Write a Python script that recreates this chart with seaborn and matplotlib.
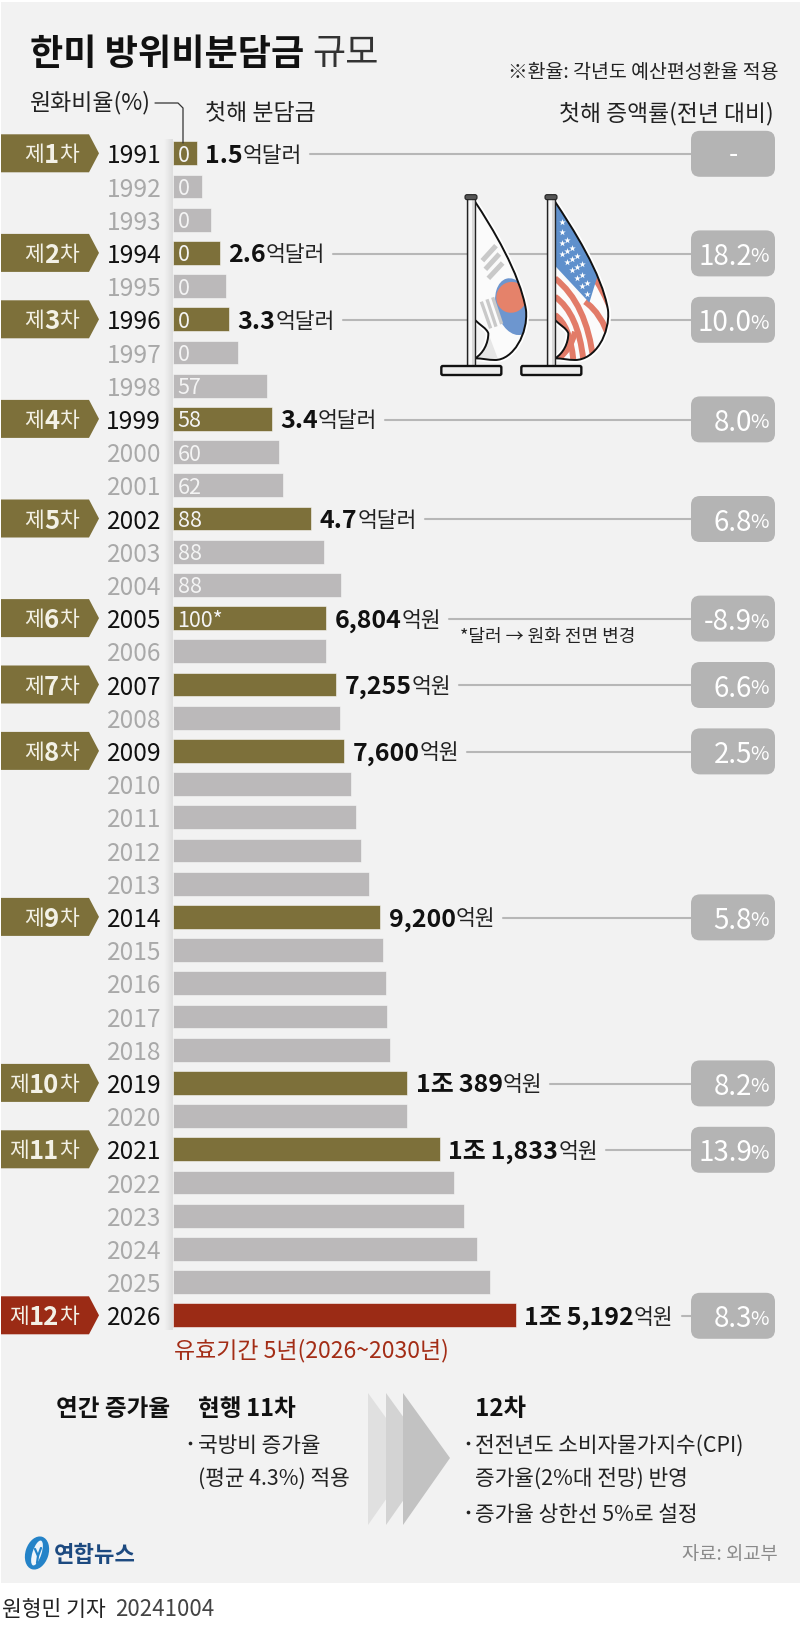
"""Recreates the Yonhap infographic on the Korea-US defence cost sharing (SMA)."""
import numpy as np
import pandas as pd
import matplotlib
matplotlib.use("Agg")
import matplotlib.pyplot as plt
import seaborn as sns
from matplotlib.patches import Ellipse, FancyBboxPatch, PathPatch, Polygon, Rectangle
from matplotlib.path import Path

sns.set_theme(style="white")
plt.rcParams["font.family"] = ["Noto Sans CJK KR", "DejaVu Sans"]

# ---- data ----
YEARS = list(range(1991, 2027))
SHARE_EOK_WON = [
    1062, 1293, 1700, 2085, 2377, 2492, 2877, 4188, 4391, 4688, 4869, 6135,
    6680, 7450, 6804, 6804, 7255, 7415, 7600, 7904, 8125, 8361, 8695, 9200,
    9320, 9441, 9507, 9602, 10389, 10389, 11833, 12472, 12896, 13463, 14028,
    15192,
]
WON_RATIO = ["0", "0", "0", "0", "0", "0", "0", "57", "58", "60", "62", "88",
             "88", "88", "100*"]
ROUND_YEARS = [1991, 1994, 1996, 1999, 2002, 2005, 2007, 2009, 2014, 2019, 2021, 2026]
ROUND_NUMBERS = ["1", "2", "3", "4", "5", "6", "7", "8", "9", "10", "11", "12"]
FIRST_AMOUNT = ["1.5", "2.6", "3.3", "3.4", "4.7", "6,804", "7,255", "7,600",
                "9,200", "1조\u2009389", "1조\u20091,833", "1조\u20095,192"]
AMOUNT_UNIT = ["억달러", "억달러", "억달러", "억달러", "억달러", "억원", "억원",
               "억원", "억원", "억원", "억원", "억원"]
FIRST_RATE = ["-", "18.2", "10.0", "8.0", "6.8", "-8.9", "6.6", "2.5", "5.8",
              "8.2", "13.9", "8.3"]

OLIVE = "#7d703a"
GREY_BAR = "#bbb9ba"
RED = "#9b2b15"
PILL = "#b4b4b4"
LINE = "#b7b7b7"
PANEL = "#f2f2f2"
INK = "#222222"

# pixel layout of the reference
BAR_LEFT = 172.6
FIRST_ROW = 153.3
ROW_STEP = 33.2
PX_PER_EOK = 343.2 / 15192


def run_text(ax, x, y, runs):
    """Writes text pieces one after the other, returns the x where they end."""
    renderer = ax.figure.canvas.get_renderer()
    for string, size, weight, color in runs:
        t = ax.text(x, y, string, fontsize=size, fontweight=weight, color=color,
                    ha="left", va="center_baseline")
        box = t.get_window_extent(renderer).transformed(ax.transData.inverted())
        x = box.x1
    return x


def draw_label(ax, y, number, color):
    """Arrow tag on the left: 제 N차."""
    ax.add_patch(Polygon([(1, y - 19), (89, y - 19), (99, y), (89, y + 19), (1, y + 19)],
                         closed=True, facecolor=color, edgecolor="none"))
    renderer = ax.figure.canvas.get_renderer()
    inv = ax.transData.inverted()
    x = 79
    for string, size, weight, gap in [("차", 15.5, "normal", 0), (number, 18.5, "bold", 0), ("제", 15.5, "normal", 4)]:
        t = ax.text(x, y - 0.5, string, fontsize=size, fontweight=weight, color="#f3f1e6",
                    ha="right", va="center_baseline")
        x = t.get_window_extent(renderer).transformed(inv).x0 - gap


def draw_pill(ax, y, rate):
    ax.add_patch(FancyBboxPatch((691 + 8, y - 23 + 8), 84 - 16, 46 - 16,
                                boxstyle="round,pad=8,rounding_size=9",
                                facecolor=PILL, edgecolor="none", zorder=3))
    if rate == "-":
        ax.text(733.5, y - 1, "-", fontsize=19, color="white", ha="center",
                va="center_baseline", zorder=4)
        return
    ax.text(769, y + 1, "%", fontsize=14.5, color="white", ha="right",
            va="center_baseline", zorder=4)
    ax.text(752, y, rate, fontsize=20, color="white", ha="right",
            va="center_baseline", zorder=4)


def flag_point(x, y):
    """Flag drawing coordinates are in 3x crop units around the flags."""
    return 420 + x / 3, 170 + y / 3


def curve(ax, pts, color, lw, clip=None, code=Path.CURVE3):
    verts = [flag_point(*p) for p in pts]
    codes = [Path.MOVETO] + [code] * (len(verts) - 1)
    patch = PathPatch(Path(verts, codes), facecolor="none", edgecolor=color, lw=lw,
                      capstyle="butt", zorder=6)
    ax.add_patch(patch)
    if clip is not None:
        patch.set_clip_path(clip)
    return patch


def draw_pole(ax, dx):
    x0, y0 = flag_point(140 + dx, 85)
    x1, y1 = flag_point(165 + dx, 590)
    ax.add_patch(Rectangle((x0, y0), x1 - x0, y1 - y0, facecolor="#d8d8d8",
                           edgecolor="#222222", lw=1.0, zorder=7))
    ax.add_patch(Rectangle((x0 + 2.5, y0), 3, y1 - y0, facecolor="#f7f7f7",
                           edgecolor="none", zorder=7))
    fx, fy = flag_point(135 + dx, 74)
    ax.add_patch(FancyBboxPatch((fx + 1, fy + 1), 10, 3, boxstyle="round,pad=1,rounding_size=2",
                                facecolor="#555555", edgecolor="#222222", lw=0.8, zorder=8))
    bx, by = flag_point(64 + dx, 588)
    ax.add_patch(FancyBboxPatch((bx + 1, by + 1), 58, 7, boxstyle="round,pad=1,rounding_size=1.5",
                                facecolor="#ececec", edgecolor="#111111", lw=1.7, zorder=8))


def flag_shape(dx, bulge=0):
    pts = [(165, 95), (215, 170), (300 + bulge, 310), (318 + bulge, 420),
           (325 + bulge, 490), (280 + bulge, 570), (225, 570),
           (205, 570), (185, 565), (165, 565),
           (190, 550), (205, 520), (205, 490),
           (200, 475), (180, 465), (165, 450), (165, 95)]
    verts = [flag_point(x + dx, y) for x, y in pts]
    codes = [Path.MOVETO] + [Path.CURVE4] * 15 + [Path.CLOSEPOLY]
    return Path(verts, codes)


def draw_flags(ax):
    # Korean flag
    shape = flag_shape(0)
    ax.add_patch(PathPatch(shape, facecolor="none", edgecolor="white", lw=4, zorder=5))
    korea = PathPatch(shape, facecolor="#fbfbfb", edgecolor="none", zorder=5)
    ax.add_patch(korea)
    fold = Polygon([flag_point(*p) for p in [(165, 565), (205, 490), (235, 570)]],
                   facecolor="#e6e6e6", edgecolor="none", zorder=6)
    ax.add_patch(fold)
    fold.set_clip_path(korea)
    blue = Ellipse(flag_point(282, 410), 36, 58, angle=-15, facecolor="#6d96cf",
                   edgecolor="none", zorder=6)
    ax.add_patch(blue)
    blue.set_clip_path(korea)
    red = Ellipse(flag_point(274, 382), 30, 31, angle=20, facecolor="#e5826a",
                  edgecolor="none", zorder=6)
    ax.add_patch(red)
    red.set_clip_path(korea)
    for a, b in [((187, 272), (228, 227)), ((196, 298), (238, 252)), ((205, 325), (248, 279))]:
        curve(ax, [a, b], "#c9c9c9", 3.6, code=Path.LINETO)
    for a, b in [((184, 395), (212, 475)), ((201, 388), (228, 470)), ((218, 382), (245, 462))]:
        curve(ax, [a, b], "#c9c9c9", 2.4, code=Path.LINETO)
    ax.add_patch(PathPatch(shape, facecolor="none", edgecolor="#111111", lw=1.4, zorder=6))
    draw_pole(ax, 0)

    # US flag
    shape = flag_shape(240, bulge=6)
    ax.add_patch(PathPatch(shape, facecolor="none", edgecolor="white", lw=4, zorder=5))
    usa = PathPatch(shape, facecolor="#fbfbfb", edgecolor="none", zorder=5)
    ax.add_patch(usa)
    stripes = [
        [(405, 325), (500, 400), (520, 570)],
        [(405, 380), (475, 430), (490, 570)],
        [(405, 435), (450, 465), (460, 570)],
        [(515, 310), (550, 360), (575, 425)],
        [(495, 395), (545, 430), (570, 510)],
        [(410, 572), (455, 535), (465, 485)],
    ]
    for s in stripes:
        curve(ax, s, "#e27b68", 4.3, clip=usa)
    canton = Polygon([flag_point(*p) for p in
                      [(400, 90), (400, 282), (508, 398), (535, 310), (480, 170)]],
                     facecolor="#5f90cc", edgecolor="none", zorder=6)
    ax.add_patch(canton)
    canton.set_clip_path(usa)
    star_x, star_y = [], []
    for row in range(4):
        for col in range(6):
            zx, zy = 425 + col * 15, 155 + row * 32 + col * 24
            if zx < 405 + (zy - 95) * 0.47 - 8 and zy < 285 + (zx - 405) - 8:
                sx, sy = flag_point(zx, zy)
                star_x.append(sx)
                star_y.append(sy)
    ax.scatter(star_x, star_y, marker="*", s=24, color="white", linewidths=0, zorder=6)
    ax.add_patch(PathPatch(shape, facecolor="none", edgecolor="#111111", lw=1.4, zorder=6))
    draw_pole(ax, 240)


def draw_logo(ax):
    ax.add_patch(Ellipse((37, 1553), 23, 34, angle=18, facecolor="#2483c8", edgecolor="none"))
    ax.add_patch(Ellipse((37, 1553), 9, 26, angle=18, facecolor="#eef5fb", edgecolor="none"))
    ax.plot([35, 38, 37], [1549, 1556, 1563], color="#2483c8", lw=1.6)
    ax.plot([41, 38], [1548, 1556], color="#2483c8", lw=1.6)
    ax.text(54, 1553, "연합뉴스", fontsize=16, fontweight="bold", color="#1d4a80",
            ha="left", va="center_baseline")


def main():
    fig = plt.figure(figsize=(8, 16.26), dpi=100, facecolor="white")
    fig.canvas.draw()

    bg = fig.add_axes([0, 0, 1, 1], zorder=0)
    bg.set_xlim(0, 800)
    bg.set_ylim(1626, 0)
    bg.axis("off")
    bg.add_patch(Rectangle((1, 2), 798.5, 1581, facecolor=PANEL, edgecolor="none"))
    # soft shadow beside the bars
    shade = np.zeros((1, 32, 4))
    shade[0, :, 3] = np.linspace(0, 0.09, 32)
    bg.imshow(shade, extent=(164, 172.6, 1330, 140), aspect="auto", zorder=1)
    bg.set_xlim(0, 800)
    bg.set_ylim(1626, 0)

    # bars
    top = FIRST_ROW - ROW_STEP / 2
    bottom = FIRST_ROW + ROW_STEP * 35.5
    width_px = 400
    ax = fig.add_axes([BAR_LEFT / 800, 1 - bottom / 1626, width_px / 800, (bottom - top) / 1626],
                      zorder=1)
    ax.patch.set_alpha(0)

    kinds = []
    for year in YEARS:
        if year == 2026:
            kinds.append("new")
        elif year in ROUND_YEARS:
            kinds.append("round")
        else:
            kinds.append("other")
    df = pd.DataFrame({"year": [str(y) for y in YEARS], "share": SHARE_EOK_WON, "kind": kinds})
    sns.barplot(data=df, x="share", y="year", hue="kind", dodge=False, width=0.72,
                palette={"other": GREY_BAR, "round": OLIVE, "new": RED}, saturation=1,
                edgecolor="#f8f8f8", linewidth=0.4, legend=False, ax=ax)
    ax.set_xlim(0, width_px / PX_PER_EOK)
    ax.set_ylim(35.5, -0.5)
    ax.set_xlabel("")
    ax.set_ylabel("")
    ax.set_xticks([])
    sns.despine(ax=ax, left=True, bottom=True)
    ax.tick_params(axis="y", length=0, pad=8.2, labelsize=17.6)
    for label, year in zip(ax.get_yticklabels(), YEARS):
        label.set_color("#111111" if year in ROUND_YEARS else "#a9a9a9")

    for i, ratio in enumerate(WON_RATIO):
        ax.annotate(ratio, (0, i), xytext=(5, 0), textcoords="offset pixels", fontsize=15.5,
                    color="#f4f4f4", ha="left", va="center_baseline")

    # overlay in pixel coordinates
    over = fig.add_axes([0, 0, 1, 1], zorder=2)
    over.set_xlim(0, 800)
    over.set_ylim(1626, 0)
    over.axis("off")
    over.patch.set_alpha(0)

    # heading
    run_text(over, 30.5, 50, [("한미 방위비분담금", 26, "bold", "#111111")])
    run_text(over, 312, 50, [("규모", 26, "normal", "#333333")])
    over.text(778, 70, "※환율: 각년도 예산편성환율 적용", fontsize=14, color=INK, ha="right",
              va="center_baseline")
    over.text(30, 100, "원화비율(%)", fontsize=16.5, color=INK, ha="left", va="center_baseline")
    over.plot([155, 178, 183, 183], [103, 103, 108, 143], color="#333333", lw=0.9)
    over.text(205, 111, "첫해 분담금", fontsize=16.5, color=INK, ha="left", va="center_baseline")
    over.text(774, 111, "첫해 증액률(전년 대비)", fontsize=16.4, color=INK, ha="right",
              va="center_baseline")

    # rounds: tag, amount, leader line, percent pill
    for number, year, amount, unit, rate in zip(ROUND_NUMBERS, ROUND_YEARS, FIRST_AMOUNT,
                                                AMOUNT_UNIT, FIRST_RATE):
        i = YEARS.index(year)
        y = FIRST_ROW + i * ROW_STEP
        draw_label(over, y, number, RED if year == 2026 else OLIVE)
        bar_end = BAR_LEFT + SHARE_EOK_WON[i] * PX_PER_EOK
        end = run_text(over, bar_end + 8.5, y, [(amount, 18, "bold", "#111111"),
                                                (unit, 15.5, "normal", "#222222")])
        over.plot([end + 8, 692], [y + 1, y + 1], color=LINE, lw=1.5, zorder=2)
        draw_pill(over, y + 0.5, rate)

    over.text(460, 635, "*달러 → 원화 전면 변경", fontsize=13, color=INK, ha="left",
              va="center_baseline")
    over.text(174, 1348, "유효기간 5년(2026~2030년)", fontsize=16.5, color="#a32d16", ha="left",
              va="center_baseline")

    draw_flags(over)

    # yearly increase notes
    for x_tip, col in [(415, "#e0e0e0"), (433, "#d3d3d3"), (450, "#c2c2c2")]:
        over.add_patch(Polygon([(x_tip - 47, 1393), (x_tip, 1458), (x_tip - 47, 1525)],
                               closed=True, facecolor=col, edgecolor="none"))
    over.text(56, 1406, "연간 증가율", fontsize=17, fontweight="bold", color="#111111",
              va="center_baseline")
    over.text(198, 1406, "현행\u200911차", fontsize=17, fontweight="bold", color="#111111",
              va="center_baseline")
    over.text(475, 1406, "12차", fontsize=17.5, fontweight="bold", color="#111111",
              va="center_baseline")
    for x, y, string in [(198, 1443, "국방비 증가율"), (198, 1476, "(평균 4.3%) 적용"),
                         (475, 1443, "전전년도 소비자물가지수(CPI)"),
                         (475, 1476, "증가율(2%대 전망) 반영"),
                         (475, 1512, "증가율 상한선 5%로 설정")]:
        over.text(x, y, string, fontsize=15.4, color=INK, va="center_baseline")
    over.scatter([190, 468, 468], [1443, 1443, 1512], s=7, color=INK, linewidths=0)

    draw_logo(over)
    over.text(778, 1552, "자료: 외교부", fontsize=13.5, color="#8a8a8a", ha="right",
              va="center_baseline")
    over.text(2, 1607, "원형민 기자", fontsize=15.5, color="#222222", va="center_baseline")
    over.text(115, 1607, "20241004", fontsize=16, color="#444444", va="center_baseline")

    fig.savefig("out.png", dpi=100)
    plt.close(fig)


if __name__ == "__main__":
    main()
